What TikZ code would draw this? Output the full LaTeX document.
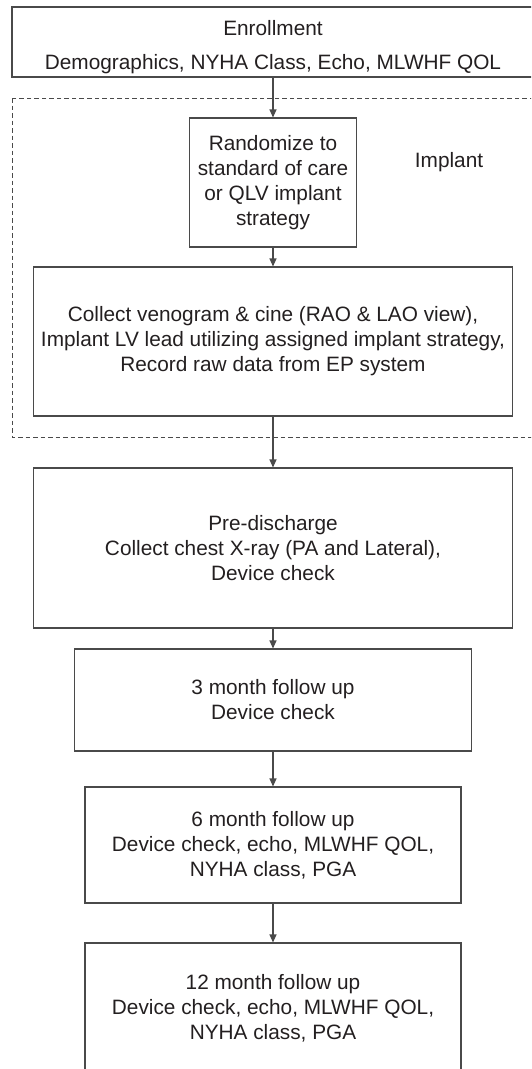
\documentclass[tikz,border=0pt]{standalone}
\usepackage{fontspec}
\setmainfont{Liberation Sans}
\usetikzlibrary{arrows.meta}
\definecolor{txt}{HTML}{231F20}
\definecolor{ln}{HTML}{4A4A4A}
\begin{document}
\begin{tikzpicture}[x=1pt,y=-1pt,
  box/.style={draw=ln, line width=1.1pt, rectangle, inner sep=0pt, align=center, text=txt,
    font=\fontsize{20.8}{25}\selectfont},
  lbl/.style={inner sep=0pt, align=center, text=txt, font=\fontsize{20.8}{25}\selectfont},
  flow/.style={draw=ln, line width=1.1pt, -{Triangle[length=8pt,width=7pt]}}]
\useasboundingbox (0,0) rectangle (531,1069);
\clip (0,0) rectangle (531,1069);
% dashed implant region
\draw[ln, line width=1pt, dash pattern=on 4.5pt off 3pt] (12,98) rectangle (534,437);
\node[lbl] (implant) at (449,162) {Implant};
\node[box, minimum width=522pt, minimum height=70pt] (enroll) at (273,42) {};
\node[lbl, font=\fontsize{20.8}{34}\selectfont] (enrolltxt) at (273,47)
  {Enrollment\\Demographics, NYHA Class, Echo, MLWHF QOL};
\node[box, minimum width=167pt, minimum height=129pt] (rand) at (273,182.5)
  {Randomize to\\standard of care\\or QLV implant\\strategy};
\node[box, minimum width=479pt, minimum height=149pt] (collect) at (273,341.5)
  {Collect venogram \& cine (RAO \& LAO view),\\Implant LV lead utilizing assigned implant strategy,\\Record raw data from EP system};
\node[box, minimum width=479pt, minimum height=160pt] (pre) at (273,548)
  {Pre-discharge\\Collect chest X-ray (PA and Lateral),\\Device check};
\node[box, minimum width=397pt, minimum height=102pt] (m3) at (273,700)
  {3 month follow up\\Device check};
\node[box, minimum width=376pt, minimum height=116pt] (m6) at (273,845)
  {6 month follow up\\Device check, echo, MLWHF QOL,\\NYHA class, PGA};
\node[box, minimum width=376pt, minimum height=130pt] (m12) at (273,1008)
  {12 month follow up\\Device check, echo, MLWHF QOL,\\NYHA class, PGA};
\draw[flow] (enroll) -- (rand);
\draw[flow] (rand) -- (collect);
\draw[flow] (collect) -- (pre);
\draw[flow] (pre) -- (m3);
\draw[flow] (m3) -- (m6);
\draw[flow] (m6) -- (m12);
\end{tikzpicture}
\end{document}
